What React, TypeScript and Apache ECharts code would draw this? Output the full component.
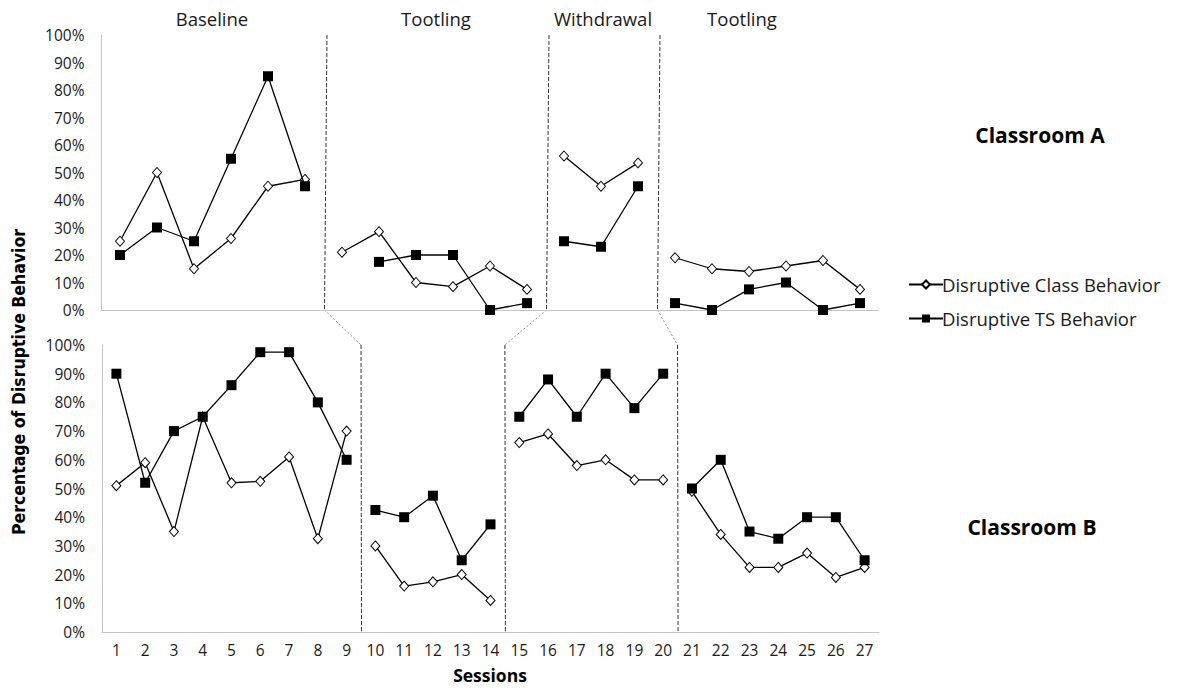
import React, { useEffect, useRef } from "react";
import * as echarts from "echarts";

// ---- data ----
const phaseNames = ["Baseline", "Tootling", "Withdrawal", "Tootling"];
const phaseLengthsA = [6, 6, 3, 6];
const phaseLengthsB = [9, 5, 6, 7];
const slotsA = ["1", "2", "3", "4", "5", "6", "7", "8", "9", "10", "11", "12", "13", "14", "15", "16", "17", "18", "19", "20", "21"];
const sessions = ["1", "2", "3", "4", "5", "6", "7", "8", "9", "10", "11", "12", "13", "14", "15", "16", "17", "18", "19", "20", "21", "22", "23", "24", "25", "26", "27"];
const classA = [25, 50, 15, 26, 45, 47.5, 21, 28.5, 10, 8.5, 16, 7.5, 56, 45, 53.5, 19, 15, 14, 16, 18, 7.5];
const tsA = [20, 30, 25, 55, 85, 45, null, 17.5, 20, 20, 0, 2.5, 25, 23, 45, 2.5, 0, 7.5, 10, 0, 2.5];
const classB = [51, 59, 35, 75, 52, 52.5, 61, 32.5, 70, 30, 16, 17.5, 20, 11, 66, 69, 58, 60, 53, 53, 49, 34, 22.5, 22.5, 27.5, 19, 22.5];
const tsB = [90, 52, 70, 75, 86, 97.5, 97.5, 80, 60, 42.5, 40, 47.5, 25, 37.5, 75, 88, 75, 90, 78, 90, 50, 60, 35, 32.5, 40, 40, 25];
const classLabel = "Disruptive Class Behavior";
const tsLabel = "Disruptive TS Behavior";

const FONT = "'Open Sans', 'Noto Sans', sans-serif";
const TEXT = "#1a1a1a";
const AXIS = "#c4c4c4";

function phaseSeries(values: (number | null)[], lengths: number[], name: string, gridIdx: number, isClass: boolean) {
  let start = 0;
  return lengths.map((len) => {
    const s = start;
    start += len;
    const data = values.map((v, i) => (i >= s && i < s + len ? v : null));
    return {
      type: "line",
      name,
      xAxisIndex: gridIdx,
      yAxisIndex: gridIdx,
      data,
      connectNulls: false,
      symbol: isClass ? "diamond" : "rect",
      symbolSize: isClass ? [9, 10] : 10,
      showAllSymbol: true,
      lineStyle: { color: "#000", width: 1.3 },
      itemStyle: isClass
        ? { color: "#fff", borderColor: "#000", borderWidth: 1 }
        : { color: "#000", borderColor: "#000", borderWidth: 0 },
      emphasis: { disabled: true },
      z: isClass ? 3 : 4,
    };
  });
}

function yAxisCfg(gridIndex: number) {
  return {
    type: "value",
    gridIndex,
    min: 0,
    max: 100,
    interval: 10,
    axisLine: { show: true, lineStyle: { color: AXIS, width: 1 } },
    axisTick: { show: false },
    splitLine: { show: false },
    axisLabel: { formatter: "{value}%", fontFamily: FONT, fontSize: 15.5, color: TEXT, margin: 17 },
  };
}

export default function App() {
  const ref = useRef<HTMLDivElement>(null);
  useEffect(() => {
    if (!ref.current) return;
    const chart = echarts.init(ref.current, undefined, { renderer: "svg" });
    const option: any = {
      animation: false,
      backgroundColor: "#fff",
      grid: [
        { left: 101.5, width: 777, top: 35, height: 275 },
        { left: 102, width: 777, top: 345, height: 287 },
      ],
      xAxis: [
        {
          type: "category",
          gridIndex: 0,
          data: slotsA,
          boundaryGap: true,
          axisLine: { show: true, lineStyle: { color: AXIS, width: 1 } },
          axisTick: { show: false },
          axisLabel: { show: false },
          splitLine: { show: false },
        },
        {
          type: "category",
          gridIndex: 1,
          data: sessions,
          boundaryGap: true,
          axisLine: { show: true, lineStyle: { color: AXIS, width: 1 } },
          axisTick: { show: false },
          axisLabel: { fontFamily: FONT, fontSize: 15.5, color: TEXT, margin: 10, interval: 0 },
          splitLine: { show: false },
        },
      ],
      yAxis: [yAxisCfg(0), yAxisCfg(1)],
      legend: {
        data: [{ name: classLabel }, { name: tsLabel }],
        orient: "vertical",
        left: 903,
        top: 270,
        itemWidth: 34,
        itemHeight: 10,
        itemGap: 15,
        selectedMode: false,
        textStyle: { fontFamily: FONT, fontSize: 18.5, color: TEXT, padding: [0, 0, 0, -6] },
      },
      series: [
        ...phaseSeries(classA, phaseLengthsA, classLabel, 0, true),
        ...phaseSeries(tsA, phaseLengthsA, tsLabel, 0, false),
        ...phaseSeries(classB, phaseLengthsB, classLabel, 1, true),
        ...phaseSeries(tsB, phaseLengthsB, tsLabel, 1, false),
      ],
    };
    chart.setOption(option);

    // phase change lines computed from the axes
    const mid = (axis: number, idx: number) =>
      ((chart.convertToPixel({ xAxisIndex: axis }, idx) as number) +
        (chart.convertToPixel({ xAxisIndex: axis }, idx + 1) as number)) / 2;
    const yTop0 = chart.convertToPixel({ yAxisIndex: 0 }, 100) as number;
    const yBot0 = chart.convertToPixel({ yAxisIndex: 0 }, 0) as number;
    const yTop1 = chart.convertToPixel({ yAxisIndex: 1 }, 100) as number;
    const yBot1 = chart.convertToPixel({ yAxisIndex: 1 }, 0) as number;

    const graphics: any[] = [];
    let endA = 0;
    let endB = 0;
    for (let p = 0; p < phaseLengthsA.length - 1; p++) {
      endA += phaseLengthsA[p];
      endB += phaseLengthsB[p];
      const xa = mid(0, endA - 1) + 2;
      const xb = mid(1, endB - 1);
      graphics.push({
        type: "line",
        shape: { x1: xa + 1.5, y1: yTop0, x2: xa - 1, y2: yBot0 },
        style: { stroke: "#333", lineWidth: 1, lineDash: [4, 2] },
        silent: true,
      });
      graphics.push({
        type: "line",
        shape: { x1: xa - 1, y1: yBot0, x2: xb, y2: yTop1 },
        style: { stroke: "#777", lineWidth: 0.8, lineDash: [2, 2] },
        silent: true,
      });
      graphics.push({
        type: "line",
        shape: { x1: xb, y1: yTop1, x2: xb + 0.5, y2: yBot1 },
        style: { stroke: "#333", lineWidth: 1, lineDash: [4, 2] },
        silent: true,
      });
    }
    const phaseX = [212, 436, 603, 742];
    phaseNames.forEach((n, i) => {
      graphics.push({
        type: "text",
        x: phaseX[i],
        y: 18,
        style: { text: n, fontFamily: FONT, fontSize: 18.5, fill: TEXT, align: "center", verticalAlign: "middle" },
        silent: true,
      });
    });
    graphics.push(
      {
        type: "text",
        x: 1040,
        y: 135,
        style: { text: "Classroom A", fontFamily: FONT, fontSize: 21, fontWeight: "bold", fill: "#000", align: "center", verticalAlign: "middle" },
        silent: true,
      },
      {
        type: "text",
        x: 1032,
        y: 527,
        style: { text: "Classroom B", fontFamily: FONT, fontSize: 21, fontWeight: "bold", fill: "#000", align: "center", verticalAlign: "middle" },
        silent: true,
      },
      {
        type: "text",
        x: 490,
        y: 675,
        style: { text: "Sessions", fontFamily: FONT, fontSize: 17.5, fontWeight: "bold", fill: "#000", align: "center", verticalAlign: "middle" },
        silent: true,
      },
      {
        type: "text",
        x: 19,
        y: 382,
        rotation: Math.PI / 2,
        style: {
          text: "Percentage of Disruptive Behavior",
          fontFamily: "'Liberation Sans Narrow', 'DejaVu Sans Condensed', 'Open Sans', sans-serif",
          fontSize: 17.5,
          fontWeight: "bold",
          fill: "#000",
          align: "center",
          verticalAlign: "middle",
        },
        silent: true,
      }
    );
    chart.setOption({ graphic: graphics });
    return () => chart.dispose();
  }, []);
  return (
    <div
      ref={ref}
      style={{ position: "fixed", left: 0, top: 0, width: 1182, height: 688, background: "#fff" }}
    />
  );
}
